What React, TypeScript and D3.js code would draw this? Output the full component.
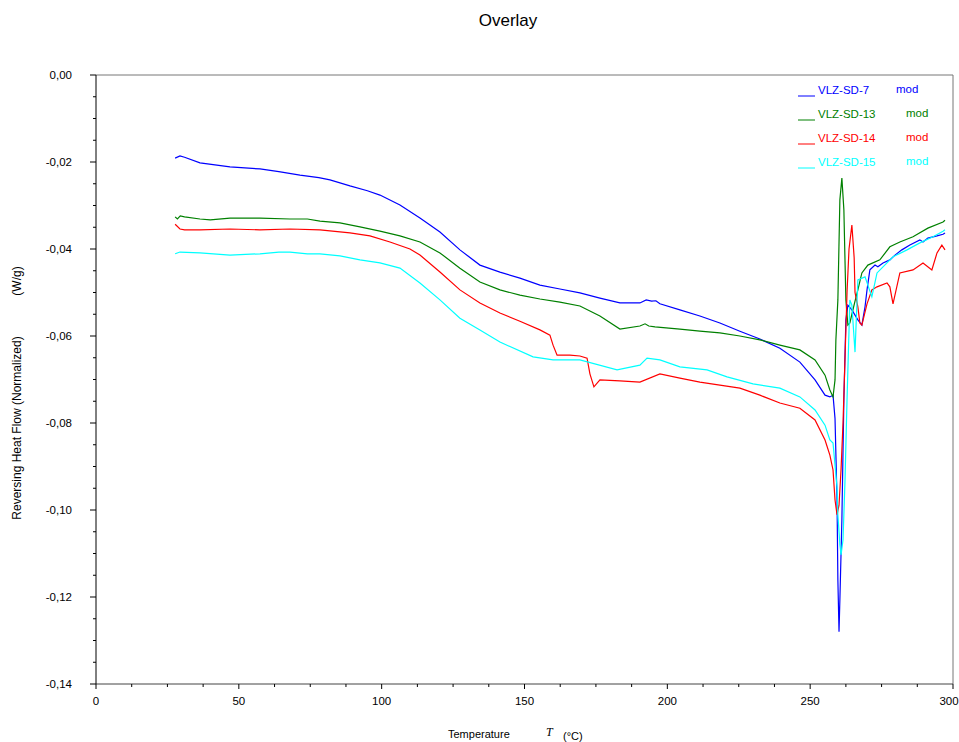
import React from "react";
import * as d3 from "d3";

const seriesNames = ["VLZ-SD-7", "VLZ-SD-13", "VLZ-SD-14", "VLZ-SD-15"];
const seriesColors = ["#0000ff", "#008000", "#ff0000", "#00ffff"];

const sd7: [number, number][] = [
  [27.7, -0.0191], [29.4, -0.0186], [31, -0.0189], [36.4, -0.0202], [46.9, -0.0211], [57.4, -0.0216],
  [64, -0.0222], [71.4, -0.023], [78, -0.0236], [81.9, -0.0241], [88.9, -0.0255], [95, -0.0266],
  [99.4, -0.0276], [106.4, -0.0299], [113.4, -0.0329], [120.4, -0.0361], [127.4, -0.0402],
  [134.4, -0.0437], [141.4, -0.0453], [148.4, -0.0467], [155.4, -0.0483], [162.4, -0.0492],
  [169.4, -0.0501], [176.4, -0.0513], [183.4, -0.0524], [190.4, -0.0524], [192.6, -0.0517],
  [194.5, -0.052], [196, -0.0519], [197.4, -0.0526], [204.4, -0.054], [211.4, -0.0554],
  [218.4, -0.057], [225.4, -0.0589], [232.4, -0.0607], [239.4, -0.0628], [246.4, -0.066],
  [251.7, -0.0701], [255.2, -0.0736], [256.9, -0.074], [258.0, -0.0736], [258.7, -0.079],
  [259.4, -0.0977], [259.7, -0.1161], [260.1, -0.128], [260.4, -0.1207], [261.1, -0.1023],
  [261.8, -0.0747], [262.5, -0.0563], [263.2, -0.0529], [264.6, -0.054], [266.7, -0.0563],
  [268.1, -0.0575], [269.2, -0.0533], [269.9, -0.0494], [270.9, -0.0448], [272.7, -0.0437],
  [273.7, -0.0441], [275.5, -0.0432], [277.9, -0.0425], [279.7, -0.0414], [282.1, -0.0402],
  [284.9, -0.0391], [288.4, -0.0379], [289.5, -0.0384], [291.2, -0.0375], [294.4, -0.037],
  [296.5, -0.0366], [297.2, -0.0363],
];

const sd13: [number, number][] = [
  [27.7, -0.0326], [28.5, -0.0331], [29.5, -0.0324], [31, -0.0326], [36.4, -0.0331], [40, -0.0333],
  [46.9, -0.0329], [57.4, -0.0329], [67.9, -0.0331], [74, -0.0331], [78.4, -0.0336], [85.4, -0.034],
  [92.4, -0.0349], [99.4, -0.0359], [106.4, -0.037], [113.4, -0.0384], [120.4, -0.0409],
  [127.4, -0.0444], [134.4, -0.0476], [141.4, -0.0494], [148.4, -0.0506], [155.4, -0.0515],
  [162.4, -0.0522], [169.4, -0.0531], [176.4, -0.0554], [183.4, -0.0584], [190.4, -0.0577],
  [192.2, -0.0572], [193.5, -0.0577], [195.7, -0.0579], [204.4, -0.0584], [211.4, -0.0589],
  [218.4, -0.0593], [225.4, -0.06], [232.4, -0.0609], [239.4, -0.0621], [246.4, -0.0632],
  [251.7, -0.0655], [255.2, -0.069], [256.9, -0.0724], [258.0, -0.074], [258.7, -0.0701],
  [259.0, -0.0609], [259.7, -0.0517], [260.4, -0.0287], [261.1, -0.0237], [261.8, -0.031],
  [262.5, -0.0517], [263.2, -0.0575], [263.9, -0.057], [264.6, -0.055], [265.7, -0.052],
  [266.7, -0.0494], [268.1, -0.0455], [270.2, -0.0437], [274.4, -0.0425], [277.9, -0.0395],
  [281.4, -0.0384], [286.0, -0.0372], [291.2, -0.0352], [296.5, -0.0338], [297.2, -0.0334],
];

const sd14: [number, number][] = [
  [27.7, -0.0343], [29.4, -0.0354], [31, -0.0356], [36.4, -0.0356], [46.9, -0.0354], [57.4, -0.0356],
  [67.9, -0.0354], [78.4, -0.0356], [88.9, -0.0363], [95.9, -0.037], [102.9, -0.0384],
  [109.9, -0.04], [113.4, -0.0414], [120.4, -0.0453], [127.4, -0.0494], [134.4, -0.0524],
  [141.4, -0.0547], [148.4, -0.0566], [155.4, -0.0586], [158.9, -0.0598], [160.0, -0.0621],
  [161.4, -0.0644], [165.9, -0.0644], [169.4, -0.0646], [171.9, -0.0651], [172.9, -0.0687],
  [174.3, -0.0717], [176.4, -0.0701], [183.4, -0.0703], [190.4, -0.0706], [197.4, -0.0687],
  [204.4, -0.0697], [211.4, -0.0706], [218.4, -0.0713], [225.4, -0.072], [232.4, -0.0736],
  [239.4, -0.0754], [246.4, -0.0766], [251.7, -0.0793], [255.2, -0.0839], [256.9, -0.0874],
  [258.0, -0.0908], [258.7, -0.0977], [259.4, -0.1011], [260.1, -0.0989], [260.8, -0.0908],
  [261.5, -0.08], [262.2, -0.065], [262.9, -0.05], [263.6, -0.04], [264.6, -0.0345],
  [265.4, -0.042], [265.7, -0.05], [266.7, -0.0533], [267.4, -0.057], [268.1, -0.0575],
  [269.9, -0.0526], [271.6, -0.0494], [273.4, -0.0487], [276.9, -0.0478], [277.9, -0.0487],
  [279.0, -0.0526], [281.4, -0.0455], [286.0, -0.0448], [289.5, -0.0432], [292.6, -0.0448],
  [294.4, -0.0409], [296.1, -0.0391], [297.2, -0.0402],
];

const sd15: [number, number][] = [
  [27.7, -0.0411], [29.4, -0.0407], [36.4, -0.0409], [46.9, -0.0414], [57.4, -0.0411], [64, -0.0407],
  [67.9, -0.0407], [74, -0.0411], [78.4, -0.0411], [85.4, -0.0416], [92.4, -0.0425], [99.4, -0.0432],
  [106.4, -0.0444], [113.4, -0.0478], [120.4, -0.0517], [127.4, -0.0559], [134.4, -0.0586],
  [141.4, -0.0614], [153.0, -0.0648], [160.0, -0.0655], [169.4, -0.0655], [182.4, -0.0678],
  [190.4, -0.0667], [192.9, -0.0651], [197.4, -0.0655], [204.4, -0.0671], [213.9, -0.0678],
  [220.9, -0.0694], [230.0, -0.071], [239.4, -0.072], [246.4, -0.074], [251.7, -0.077],
  [255.2, -0.0805], [256.9, -0.0839], [258.0, -0.0846], [259.4, -0.0947], [259.7, -0.1011],
  [260.4, -0.108], [260.8, -0.1103], [261.5, -0.1069], [262.2, -0.0931], [262.9, -0.0747],
  [263.9, -0.0517], [264.6, -0.0529], [265.7, -0.0637], [266.7, -0.0471], [269.2, -0.0464],
  [271.6, -0.051], [273.4, -0.0455], [275.5, -0.0441], [279.0, -0.0418], [283.9, -0.0402],
  [288.4, -0.0386], [293.0, -0.0372], [296.5, -0.0359], [297.2, -0.0356],
];

const allSeries = [sd7, sd13, sd14, sd15];

const xMajorTicks = [0, 50, 100, 150, 200, 250, 300];
const yMajorTicks = [0, -0.02, -0.04, -0.06, -0.08, -0.1, -0.12, -0.14];
const yTickLabels = ["0,00", "-0,02", "-0,04", "-0,06", "-0,08", "-0,10", "-0,12", "-0,14"];

const W = 959;
const H = 742;
const L = 96, R = 953, T = 75, B = 684;

export default function App() {
  const x = d3.scaleLinear().domain([0, 300]).range([L, R]);
  const y = d3.scaleLinear().domain([-0.14, 0]).range([B, T]);
  const line = d3.line<[number, number]>().x((d) => x(d[0])).y((d) => y(d[1])).curve(d3.curveLinear);

  const xMinor = d3.range(0, 300.001, 12.5);
  const yMinor = d3.range(0, 29).map((i) => -i * 0.005);
  const font = "Arial, 'Liberation Sans', sans-serif";

  return (
    <svg width={W} height={H} style={{ position: "absolute", left: 0, top: 0, background: "#fff" }} fontFamily={font}>
      <rect x={0} y={0} width={W} height={H} fill="#fff" />
      <text x={508} y={26} fontSize={17} textAnchor="middle" fill="#000">Overlay</text>

      {/* frame */}
      <line x1={L} x2={R} y1={T} y2={T} stroke="#777" strokeWidth={1} />
      <line x1={R} x2={R} y1={T} y2={B} stroke="#777" strokeWidth={1} />
      <line x1={L} x2={R} y1={B} y2={B} stroke="#444" strokeWidth={1} />
      <line x1={L} x2={L} y1={T} y2={B} stroke="#000" strokeWidth={1} />

      {/* y ticks */}
      {yMinor.map((v, i) => (
        <line key={"ym" + i} x1={L - (i % 4 === 0 ? 6 : 3)} x2={L} y1={y(v)} y2={y(v)} stroke="#000" />
      ))}
      {yMajorTicks.map((v, i) => (
        <text key={"yl" + i} x={72} y={y(v) + 4} fontSize={11.5} textAnchor="end" fill="#000">{yTickLabels[i]}</text>
      ))}

      {/* x ticks */}
      {xMinor.map((v, i) => (
        <line key={"xm" + i} x1={x(v)} x2={x(v)} y1={B} y2={B + (i % 4 === 0 ? 5 : 3)} stroke="#000" />
      ))}
      {xMajorTicks.map((v, i) => (
        <text key={"xl" + i} x={v === 300 ? x(v) - 4 : x(v)} y={705} fontSize={11.5} textAnchor="middle" fill="#000">{String(v)}</text>
      ))}

      {/* axis labels */}
      <text x={448} y={738} fontSize={11} fill="#000">Temperature</text>
      <text x={546} y={736} fontSize={12} fontStyle="italic" fontFamily="'Liberation Serif', 'DejaVu Serif', serif" fill="#000">T</text>
      <text x={563} y={740} fontSize={11} fill="#000">(°C)</text>
      <text transform="translate(21,428) rotate(-90)" fontSize={12} textAnchor="middle" fill="#000">Reversing Heat Flow (Normalized)</text>
      <text transform="translate(21,281) rotate(-90)" fontSize={12} textAnchor="middle" fill="#000">(W/g)</text>

      {/* series */}
      {allSeries.map((s, i) => (
        <path key={"s" + i} d={line(s) || ""} fill="none" stroke={seriesColors[i]} strokeWidth={1.2} />
      ))}

      {/* legend */}
      {seriesNames.map((n, i) => {
        const cy = 90 + i * 24;
        return (
          <g key={"lg" + i}>
            <line x1={798} x2={815} y1={cy + 6} y2={cy + 6} stroke={seriesColors[i]} strokeWidth={1} />
            <text x={818} y={cy + 4} fontSize={11.5} fill={seriesColors[i]}>{n}</text>
            <text x={i === 0 ? 896 : 906} y={cy + 3} fontSize={11.5} fill={seriesColors[i]}>mod</text>
          </g>
        );
      })}
    </svg>
  );
}
